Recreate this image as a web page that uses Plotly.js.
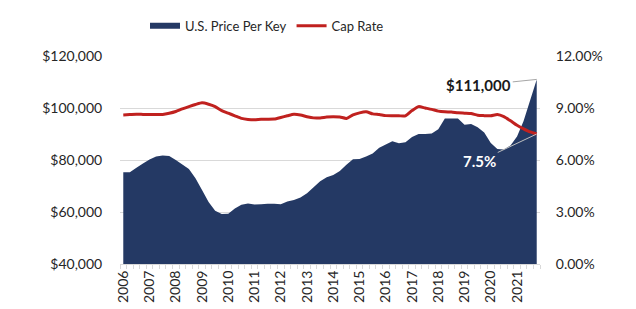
<!DOCTYPE html>
<html>
<head>
<meta charset="utf-8">
<script src="https://cdn.plot.ly/plotly-3.0.1.min.js"></script>
<style>html,body{margin:0;padding:0;background:#fff;}#chart{width:636px;height:309px;}</style>
</head>
<body>
<div id="chart"></div>
<script>
const years = ["2006","2007","2008","2009","2010","2011","2012","2013","2014","2015","2016","2017","2018","2019","2020","2021"];
const pricePerKey = [
 75300,75300,77000,78700,80200,81300,81700,81500,
 80000,78300,76500,73000,68500,63800,60500,59200,
 59300,61300,62800,63300,62900,63000,63200,63200,
 63000,64000,64600,65600,67200,69500,71800,73400,
 74200,75800,78200,80300,80400,81300,82500,84700,
 86000,87200,86400,86800,88800,90000,90000,90200,
 91800,96000,96000,96000,93600,93800,92600,90600,
 86500,84200,84000,85600,89000,95000,103000,111000];
const capRate = [
 8.60,8.62,8.64,8.63,8.62,8.62,8.63,8.70,
 8.80,8.95,9.08,9.20,9.30,9.22,9.08,8.85,
 8.70,8.55,8.40,8.34,8.32,8.35,8.35,8.36,
 8.45,8.55,8.64,8.60,8.50,8.43,8.43,8.48,
 8.50,8.48,8.40,8.60,8.72,8.78,8.66,8.62,
 8.56,8.55,8.55,8.55,8.85,9.08,9.00,8.92,
 8.82,8.78,8.77,8.72,8.70,8.68,8.58,8.56,
 8.55,8.62,8.50,8.26,8.00,7.80,7.62,7.50];
const leftTicks = [40000,60000,80000,100000,120000];
const rightTicks = [0,3,6,9,12];

const idx = pricePerKey.map((_, i) => i);
const yearPos = years.map((_, i) => i * 4);
const font = "Lato, 'Open Sans', sans-serif";

const traces = [
  {x: idx, y: pricePerKey, name: "U.S. Price Per Key", type: "scatter", mode: "none",
   fill: "tozeroy", fillcolor: "#243964", line: {shape: "linear"}, yaxis: "y"},
  {x: idx, y: capRate, name: "Cap Rate", type: "scatter", mode: "lines",
   line: {color: "#C0211F", width: 3, shape: "spline", smoothing: 0.6}, yaxis: "y2"}
];

const last = idx.length - 1;
const layout = {
  width: 636, height: 309,
  margin: {l: 120, r: 96, t: 55, b: 45},
  paper_bgcolor: "#fff", plot_bgcolor: "#fff",
  font: {family: font, size: 14, color: "#262626"},
  showlegend: true,
  legend: {orientation: "h", x: 0.35, xanchor: "center", y: 1.14, yanchor: "middle",
           font: {family: font, size: 13, color: "#262626"}, traceorder: "normal", itemwidth: 30},
  xaxis: {range: [-0.5, last + 0.5], tickmode: "array", tickvals: yearPos, ticktext: years,
          tickangle: -90, ticks: "", showgrid: false, zeroline: false,
          showline: true, linecolor: "#d9d9d9", linewidth: 1,
          tickfont: {family: font, size: 14, color: "#262626"},
          minor: {tickmode: "linear", tick0: -0.5, dtick: 1, ticks: "outside", ticklen: 4, tickcolor: "#d9d9d9", showgrid: false}},
  yaxis: {range: [40000, 120000], tickmode: "array", tickvals: leftTicks,
          ticktext: leftTicks.map(v => "$" + v.toLocaleString("en-US")),
          showgrid: true, gridcolor: "#d9d9d9", gridwidth: 1, zeroline: false,
          ticks: "outside", ticklen: 14, tickcolor: "rgba(0,0,0,0)", showline: false,
          tickfont: {family: font, size: 14, color: "#262626"}},
  yaxis2: {range: [0, 12], overlaying: "y", side: "right", tickmode: "array", tickvals: rightTicks,
           ticktext: rightTicks.map(v => v.toFixed(2) + "%"), showgrid: false, zeroline: false,
           ticks: "outside", ticklen: 12, tickcolor: "rgba(0,0,0,0)", showline: false,
           tickfont: {family: font, size: 14, color: "#262626"}},
  annotations: [
    {x: last, y: pricePerKey[last], xref: "x", yref: "y", text: "<b>$" + pricePerKey[last].toLocaleString("en-US") + "</b>",
     showarrow: true, arrowhead: 0, arrowwidth: 1, arrowcolor: "#a6a6a6", ax: -58, ay: 6,
     font: {family: font, size: 15, color: "#1a1a1a"}},
    {x: last, y: capRate[last], xref: "x", yref: "y2", text: "<b>" + capRate[last].toFixed(1) + "%</b>",
     showarrow: true, arrowhead: 0, arrowwidth: 1, arrowcolor: "#bfbfbf", ax: -57, ay: 27,
     font: {family: font, size: 15, color: "#ffffff"}}
  ]
};

Plotly.newPlot("chart", traces, layout, {displayModeBar: false, staticPlot: true});
</script>
</body>
</html>
